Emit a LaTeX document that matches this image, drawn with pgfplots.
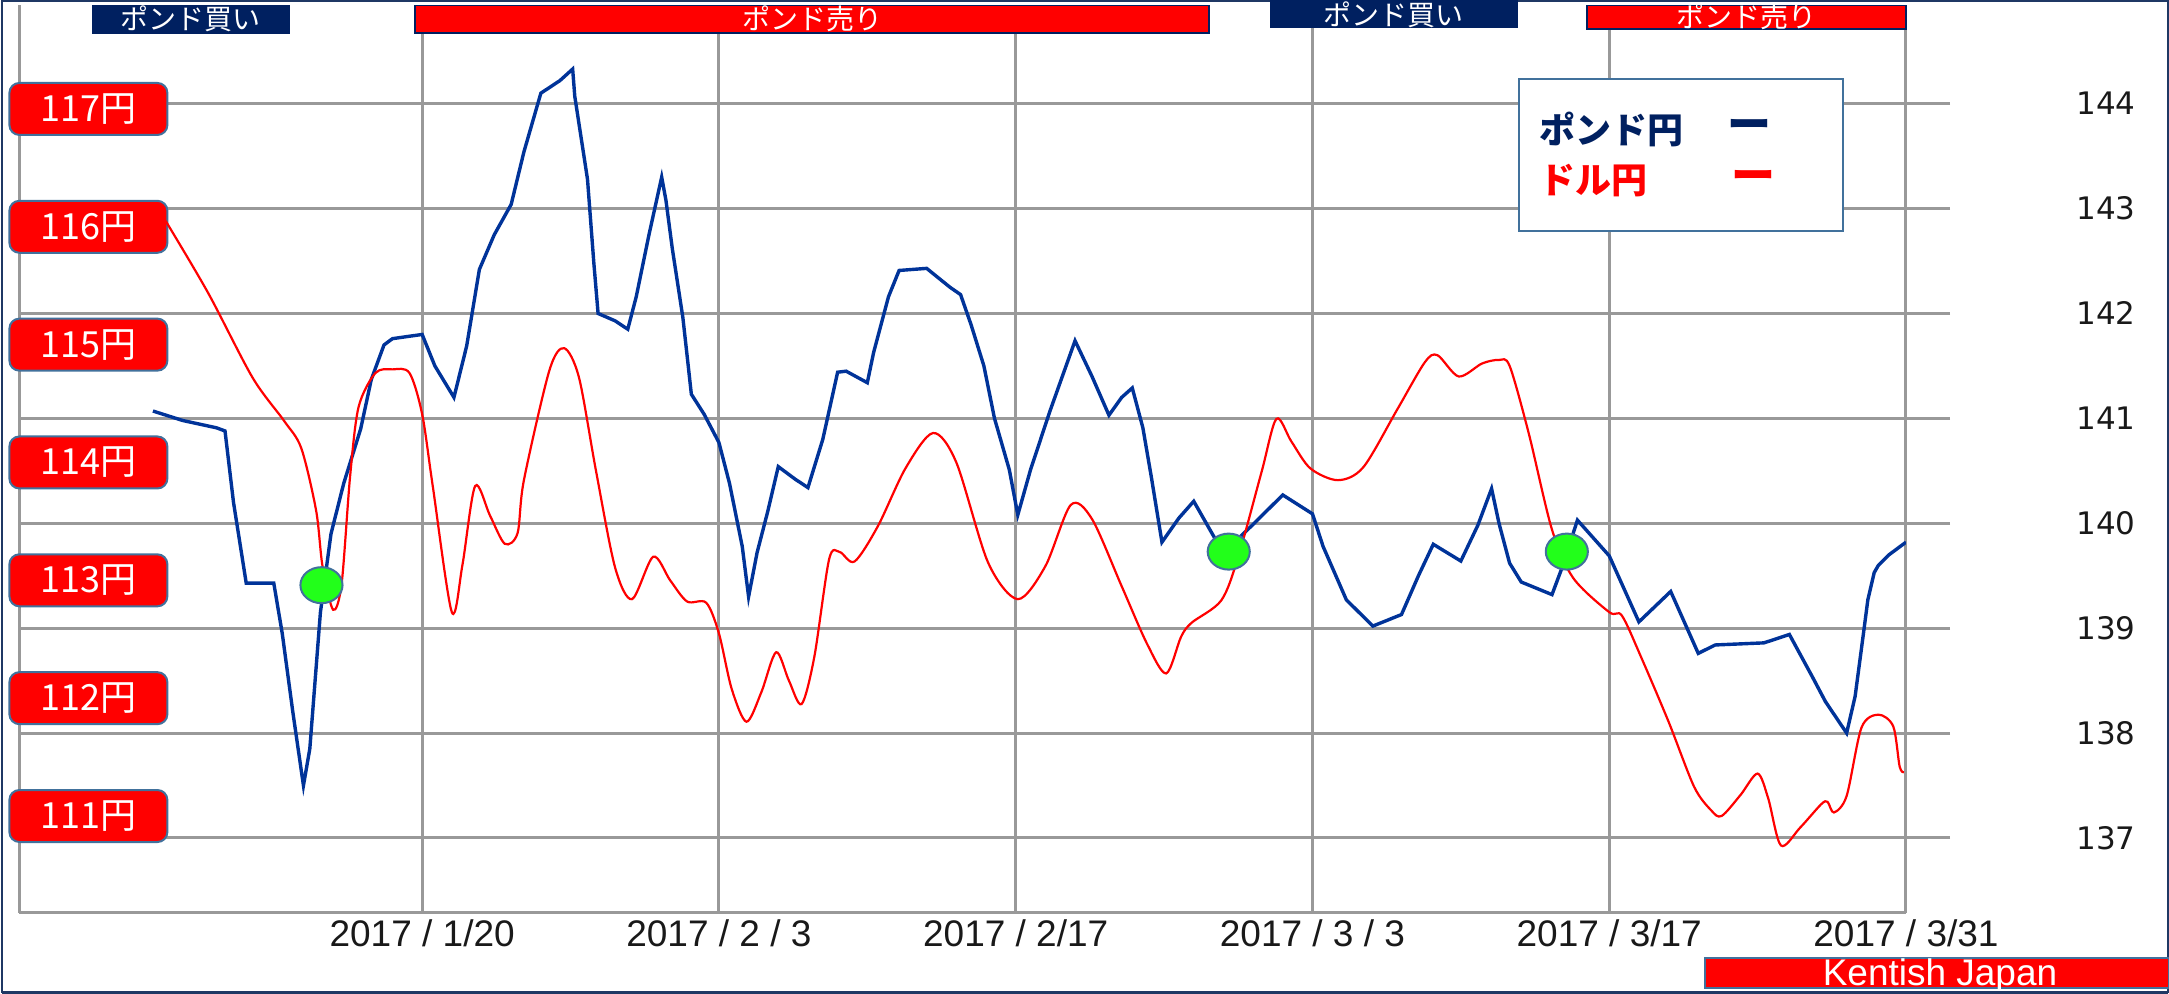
\documentclass[border=0pt]{standalone}
\usepackage{fontspec}
\usepackage{pgfplots}
\pgfplotsset{compat=1.18}
\setmainfont{Liberation Sans}
\newfontfamily\jp{Noto Sans CJK JP}
\newfontfamily\dv{DejaVu Sans}
\definecolor{gridgray}{HTML}{999999}
\definecolor{pblue}{HTML}{003399}
\definecolor{navyb}{HTML}{002060}
\definecolor{steel}{HTML}{41719C}
\definecolor{mgreen}{HTML}{22FF1A}
\definecolor{framenavy}{HTML}{1F3864}
\begin{document}
\begin{tikzpicture}
\path[use as bounding box] (0,0) rectangle (1084.5pt,497pt);
\fill[white] (0,0) rectangle (1084.5pt,497pt);
\draw[framenavy, line width=1pt] (0.75pt,0.75pt) rectangle (1083.75pt,496.25pt);

% Axis A: grid, blue line, date labels
\begin{axis}[
  at={(9.7pt,40.5pt)}, anchor=south west,
  scale only axis, width=943.3pt, height=453.75pt,
  xmin=0, xmax=89, ymin=136.285, ymax=144.936,
  enlargelimits=false,
  axis x line*=bottom, axis y line*=left,
  axis line style={-, gridgray, line width=1.5pt},
  y axis line style={draw=none},
  xtick={0,19,33,47,61,75,89},
  xticklabels={,2017 / 1/20,2017 / 2 / 3,2017 / 2/17,2017 / 3 / 3,2017 / 3/17,2017 / 3/31},
  ytick={137,138,139,140,141,142,143,144},
  yticklabels={},
  xmajorgrids, ymajorgrids,
  grid style={gridgray, line width=1.5pt},
  xtick style={draw=none}, ytick style={draw=none},
  tick align=inside,
  xticklabel style={font=\fontsize{18.5}{19}\selectfont, text=black!90, inner sep=0pt, anchor=north, yshift=-3pt},
]
\addplot[pblue, line width=1.7pt] coordinates {
(6.3,141.07) (7.7,140.98) (9.3,140.91) (9.7,140.88) (10.1,140.20) (10.7,139.43) (12.0,139.43) (12.4,138.95) (12.9,138.20) (13.4,137.50) (13.7,137.85) (14.2,139.15) (14.7,139.90) (15.3,140.38) (16.1,140.90) (16.6,141.37) (17.2,141.70) (17.6,141.76) (19.0,141.80) (19.6,141.50) (20.5,141.20) (21.1,141.69) (21.7,142.42) (22.4,142.75) (23.2,143.04) (23.8,143.54) (24.6,144.10) (25.5,144.22) (26.1,144.33) (26.2,144.07) (26.8,143.28) (27.1,142.48) (27.3,142.00) (28.1,141.93) (28.7,141.85) (29.1,142.16) (29.7,142.75) (30.3,143.30) (30.5,143.08) (30.8,142.62) (31.3,141.96) (31.7,141.23) (32.3,141.04) (33.0,140.77) (33.5,140.38) (34.1,139.78) (34.4,139.30) (34.8,139.72) (35.3,140.11) (35.8,140.54) (36.6,140.42) (37.2,140.34) (37.9,140.80) (38.6,141.44) (39.0,141.45) (40.0,141.34) (40.3,141.63) (41.0,142.16) (41.5,142.41) (42.8,142.43) (43.9,142.25) (44.4,142.18) (44.9,141.89) (45.5,141.50) (46.0,141.00) (46.7,140.51) (47.1,140.08) (47.7,140.51) (48.6,141.06) (49.8,141.74) (50.6,141.40) (51.4,141.03) (52.0,141.20) (52.5,141.29) (53.0,140.91) (53.4,140.44) (53.9,139.82) (54.7,140.05) (55.4,140.21) (56.3,139.89) (56.8,139.72) (58.1,139.97) (59.6,140.27) (61.0,140.09) (61.5,139.78) (62.6,139.27) (63.85,139.02) (65.2,139.13) (66.0,139.50) (66.7,139.80) (68.0,139.64) (68.8,139.98) (69.45,140.33) (69.8,140.00) (70.3,139.62) (70.85,139.44) (72.3,139.32) (72.8,139.59) (73.5,140.03) (75.0,139.69) (76.4,139.06) (77.9,139.35) (79.2,138.76) (80.0,138.84) (82.3,138.86) (83.5,138.94) (84.6,138.53) (85.2,138.30) (86.2,138.00) (86.6,138.35) (87.0,138.96) (87.2,139.27) (87.5,139.53) (87.7,139.60) (88.2,139.70) (89.0,139.82)
};
\end{axis}

% Axis B: red line (USD/JPY), left yen labels
\begin{axis}[
  at={(9.7pt,40.5pt)}, anchor=south west,
  scale only axis, width=943.3pt, height=453.75pt,
  xmin=0, xmax=89, ymin=110.177, ymax=117.878,
  enlargelimits=false,
  hide x axis,
  axis y line*=left,
  y axis line style={draw=none},
  ytick={111,112,113,114,115,116,117},
  yticklabels={111円,112円,113円,114円,115円,116円,117円},
  ytick style={draw=none},
  major tick length=0pt,
  yticklabel style={font=\jp\fontsize{18}{18}\selectfont, text=white, fill=red, draw=steel, line width=1pt, rounded corners=5pt, minimum width=79pt, minimum height=26pt, inner sep=0pt, anchor=west, xshift=-5.5pt},
]
\addplot[red, line width=1.1pt, smooth, tension=0.5] coordinates {
(6.9,116.05) (8.9,115.44) (11.0,114.72) (12.5,114.35) (13.3,114.12) (14.0,113.59) (14.3,113.12) (14.8,112.75) (15.2,112.97) (15.6,113.88) (16.0,114.47) (16.8,114.76) (17.6,114.79) (18.4,114.76) (19.0,114.41) (19.5,113.80) (20.4,112.73) (20.9,113.13) (21.5,113.80) (22.2,113.55) (22.9,113.31) (23.5,113.40) (23.8,113.85) (25.0,114.78) (25.7,114.97) (26.4,114.72) (27.2,113.93) (28.1,113.11) (28.9,112.84) (29.9,113.20) (30.7,113.00) (31.5,112.82) (32.4,112.81) (33.0,112.55) (33.6,112.08) (34.3,111.80) (35.0,112.05) (35.7,112.39) (36.3,112.15) (36.9,111.95) (37.5,112.35) (38.2,113.18) (38.7,113.24) (39.4,113.16) (40.5,113.46) (41.8,113.95) (43.1,114.25) (44.2,114.00) (45.7,113.15) (47.1,112.84) (48.4,113.12) (49.6,113.64) (50.6,113.52) (52.0,112.95) (53.2,112.46) (54.1,112.21) (54.8,112.52) (55.3,112.64) (56.7,112.83) (57.5,113.20) (58.6,113.92) (59.3,114.37) (60.0,114.18) (60.9,113.95) (62.2,113.85) (63.4,113.96) (65.0,114.45) (66.3,114.85) (66.9,114.91) (67.9,114.73) (69.0,114.84) (69.8,114.87) (70.3,114.82) (71.2,114.25) (72.3,113.43) (73.3,113.02) (75.0,112.73) (75.6,112.70) (76.5,112.35) (77.8,111.80) (79.0,111.25) (79.8,111.05) (80.3,111.00) (81.2,111.18) (82.0,111.36) (82.5,111.15) (83.1,110.75) (84.0,110.90) (85.0,111.10) (85.3,111.12) (85.6,111.03) (86.2,111.17) (86.9,111.75) (87.7,111.86) (88.4,111.76) (88.7,111.42) (88.9,111.37)
};
\end{axis}

% Axis C: crossing markers, right-hand GBP/JPY scale
\begin{axis}[
  at={(9.7pt,40.5pt)}, anchor=south west,
  scale only axis, width=943.3pt, height=453.75pt,
  xmin=0, xmax=89, ymin=136.285, ymax=144.936,
  enlargelimits=false,
  hide x axis,
  axis y line*=right,
  y axis line style={draw=none},
  ytick={137,138,139,140,141,142,143,144},
  yticklabels={137,138,139,140,141,142,143,144},
  tick align=outside, major tick length=22pt,
  ytick style={gridgray, line width=1.5pt},
  yticklabel style={font=\dv\fontsize{15.5}{15.5}\selectfont, text=black!90, inner sep=0pt, anchor=west, xshift=63pt},
  clip=false,
]
\addplot[only marks, mark=*, mark size=9pt, mark options={fill=mgreen, draw=steel, line width=1pt, xscale=1.17}] coordinates {(14.25,139.41) (57.05,139.73) (73.0,139.73)};
\end{axis}

% top banners
\filldraw[fill=navyb, draw=navyb] (46.35pt,480.5pt) rectangle (144.5pt,494.25pt);
\node[text=white, font=\jp\fontsize{14}{14}\selectfont, inner sep=0pt] at (95.4pt,487.6pt) {ポンド買い};
\filldraw[fill=red, draw=navyb, line width=0.8pt] (207.5pt,480.5pt) rectangle (604.5pt,494.25pt);
\node[text=white, font=\jp\fontsize{14}{14}\selectfont, inner sep=0pt] at (406pt,487.6pt) {ポンド売り};
\filldraw[fill=navyb, draw=navyb] (635pt,483.2pt) rectangle (758.5pt,497pt);
\node[text=white, font=\jp\fontsize{14}{14}\selectfont, inner sep=0pt] at (696.75pt,489.8pt) {ポンド買い};
\filldraw[fill=red, draw=navyb, line width=0.8pt] (793.5pt,482.5pt) rectangle (953pt,494.25pt);
\node[text=white, font=\jp\fontsize{14}{14}\selectfont, inner sep=0pt] at (873.25pt,488.6pt) {ポンド売り};

% legend
\filldraw[fill=white, draw=steel, line width=1pt] (759.5pt,381.5pt) rectangle (921.3pt,457.5pt);
\node[anchor=west, inner sep=0pt, text=navyb, font=\jp\bfseries\fontsize{18}{18}\selectfont] at (769.5pt,432.25pt) {ポンド円};
\node[anchor=west, inner sep=0pt, text=navyb, font=\jp\bfseries\fontsize{22}{22}\selectfont] at (863.5pt,432.25pt) {ー};
\node[anchor=west, inner sep=0pt, text=red, font=\jp\bfseries\fontsize{18}{18}\selectfont] at (769.5pt,406.75pt) {ドル円};
\node[anchor=west, inner sep=0pt, text=red, font=\jp\bfseries\fontsize{22}{22}\selectfont] at (865.5pt,406.75pt) {ー};

% footer
\filldraw[fill=red, draw=steel, line width=0.8pt] (852.5pt,3pt) rectangle (1084.5pt,18pt);
\node[anchor=base, inner sep=0pt, text=white, font=\fontsize{18.5}{18.5}\selectfont] at (970pt,4pt) {Kentish Japan};
\draw[framenavy, line width=1.2pt] (0.75pt,0.75pt) -- (1083.75pt,0.75pt);
\end{tikzpicture}
\end{document}
